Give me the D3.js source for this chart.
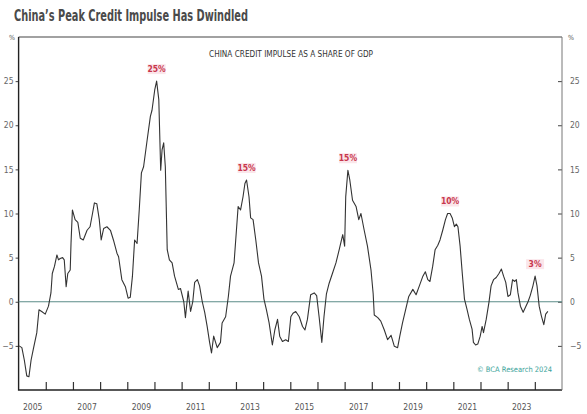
<!DOCTYPE html>
<html>
<head>
<meta charset="utf-8">
<script src="https://cdn.jsdelivr.net/npm/d3@7"></script>
<style>
  body { margin: 0; background: #fff; }
  text { font-family: "Liberation Sans Narrow", "DejaVu Sans Condensed", "Liberation Sans", sans-serif; }
</style>
</head>
<body>
<svg id="chart"></svg>
<script>
// decimal year of each reading, and credit impulse (% of GDP)
var dates = [2005.02,2005.12,2005.21,2005.30,2005.38,2005.46,2005.54,2005.67,2005.75,2005.85,2005.98,
  2006.10,2006.19,2006.24,2006.32,2006.41,2006.47,2006.53,2006.62,2006.68,2006.75,2006.81,2006.90,2006.93,2006.98,
  2007.08,2007.18,2007.27,2007.38,2007.52,2007.63,2007.72,2007.79,2007.88,2007.97,
  2008.04,2008.13,2008.25,2008.38,2008.49,2008.62,2008.68,2008.80,2008.93,
  2009.03,2009.11,2009.19,2009.27,2009.36,2009.44,2009.52,2009.60,2009.73,2009.85,2009.91,
  2010.01,2010.08,2010.16,2010.23,2010.28,2010.34,2010.40,2010.47,2010.55,2010.65,2010.74,2010.88,2010.96,
  2011.08,2011.14,2011.24,2011.33,2011.41,2011.48,2011.58,2011.66,2011.76,2011.85,2011.94,
  2012.03,2012.10,2012.18,2012.31,2012.43,2012.49,2012.62,2012.72,2012.80,2012.93,
  2013.01,2013.08,2013.17,2013.26,2013.33,2013.39,2013.48,2013.54,2013.63,2013.73,2013.83,2013.94,
  2014.03,2014.12,2014.22,2014.34,2014.43,2014.53,2014.61,2014.71,2014.83,2014.93,
  2015.02,2015.10,2015.20,2015.33,2015.45,2015.54,2015.63,2015.75,2015.88,2015.97,
  2016.06,2016.16,2016.24,2016.33,2016.43,2016.55,2016.68,2016.80,2016.93,
  2017.00,2017.04,2017.12,2017.19,2017.29,2017.42,2017.52,2017.60,2017.72,2017.84,2017.97,
  2018.05,2018.09,2018.22,2018.33,2018.46,2018.58,2018.71,2018.83,2018.95,
  2019.03,2019.13,2019.23,2019.36,2019.51,2019.63,2019.75,2019.88,2019.97,
  2020.06,2020.14,2020.24,2020.33,2020.43,2020.51,2020.61,2020.71,2020.79,2020.88,2020.96,
  2021.04,2021.11,2021.17,2021.25,2021.33,2021.41,2021.50,2021.59,2021.69,2021.74,2021.82,2021.90,2021.99,
  2022.06,2022.11,2022.21,2022.31,2022.39,2022.48,2022.58,2022.68,2022.77,2022.85,2022.93,
  2023.01,2023.10,2023.18,2023.26,2023.32,2023.38,2023.47,2023.57,2023.66,2023.75,2023.83,2023.93,
  2024.01,2024.08,2024.16,2024.24,2024.33,2024.40,2024.48];
var impulse = [-5.0,-5.2,-6.6,-8.4,-8.5,-6.6,-5.4,-3.5,-0.9,-1.1,-1.4,
  -0.5,1.0,3.2,4.0,5.3,4.75,4.9,5.0,4.75,1.7,3.2,3.6,6.7,10.4,
  9.3,9.0,7.2,7.0,8.1,8.5,10.0,11.2,11.1,9.3,
  7.0,8.3,8.5,8.1,7.0,5.5,5.1,2.5,1.7,
  0.4,0.5,2.9,7.0,6.6,10.4,14.6,15.3,18.3,21.0,21.7,
  24.0,25.0,22.9,14.9,17.2,18.0,15.3,5.9,4.75,4.4,2.9,1.4,1.5,
  0.0,-1.8,1.2,-1.1,0.0,2.2,2.5,1.8,0.0,-1.2,-2.8,
  -4.6,-5.8,-3.9,-5.2,-4.6,-2.4,-1.7,0.6,2.9,4.4,
  7.8,10.8,10.4,11.9,13.4,13.8,11.9,9.5,9.3,7.0,4.4,2.9,
  0.3,-0.9,-2.4,-4.9,-3.2,-2.0,-3.9,-4.5,-4.3,-4.5,
  -1.7,-1.3,-1.1,-1.7,-2.8,-3.2,-2.0,0.8,1.0,0.7,
  -1.7,-4.6,-1.7,0.9,2.1,3.2,4.4,5.9,7.6,
  6.3,11.9,14.9,13.8,11.5,10.8,9.3,10.0,8.1,6.3,3.6,
  0.9,-1.5,-1.8,-2.2,-3.2,-4.3,-3.8,-5.05,-5.2,
  -3.9,-2.4,-1.1,0.6,1.4,0.8,1.8,2.9,3.4,
  2.5,2.3,4.0,5.9,6.4,7.0,8.1,9.3,10.0,10.0,9.5,
  8.5,8.8,8.5,6.3,3.2,0.3,-0.8,-2.0,-3.1,-4.6,-4.9,-4.8,-3.9,
  -2.8,-3.5,-2.0,-0.1,1.8,2.5,2.75,3.2,3.7,2.9,2.2,
  0.6,0.8,2.5,2.3,2.5,1.0,-0.5,-1.2,-0.6,0.0,0.7,1.8,
  2.9,1.8,-0.5,-1.6,-2.6,-1.4,-1.1];

var yTicks = [-5, 0, 5, 10, 15, 20, 25];
var yearTicks = d3.range(2006, 2025);
var yearLabels = [2005, 2007, 2009, 2011, 2013, 2015, 2017, 2019, 2021, 2023];

// peaks called out in red
var peakDates = [2010.08, 2013.39, 2017.12, 2020.88, 2024.01];
var peakLabels = ["25%", "15%", "15%", "10%", "3%"];

var width = 587, height = 414;
var svg = d3.select("#chart").attr("width", width).attr("height", height);

var x = d3.scaleLinear().domain([2005, 2025]).range([18.6, 562]);
var y = d3.scaleLinear().domain([-10, 30]).range([390, 37]);

// title and subtitle
svg.append("text")
  .attr("x", 14).attr("y", 21)
  .attr("textLength", 234).attr("lengthAdjust", "spacingAndGlyphs")
  .style("font-size", "15px").style("font-weight", "bold")
  .style("fill", "#4a4a4a")
  .text("China\u2019s Peak Credit Impulse Has Dwindled");

svg.append("text")
  .attr("x", 291).attr("y", 57)
  .attr("text-anchor", "middle")
  .attr("textLength", 164).attr("lengthAdjust", "spacingAndGlyphs")
  .style("font-size", "8.5px").style("fill", "#333")
  .text("CHINA CREDIT IMPULSE AS A SHARE OF GDP");

// % markers
svg.append("text").attr("x", 9).attr("y", 40).style("font-size", "7px").style("fill", "#555").text("%");
svg.append("text").attr("x", 568).attr("y", 40).style("font-size", "7px").style("fill", "#555").text("%");

// left and right axes
var left = svg.append("g").attr("transform", "translate(18.6,0)")
  .call(d3.axisLeft(y).tickValues(yTicks).tickSize(3).tickPadding(2));
var right = svg.append("g").attr("transform", "translate(562,0)")
  .call(d3.axisRight(y).tickValues(yTicks).tickSize(-4).tickPadding(8));
[left, right].forEach(function(g){
  g.select(".domain").remove();
  g.selectAll("line").attr("stroke", "#444");
  g.selectAll("text").style("font-size", "8.5px").style("fill", "#666")
    .style("font-family", "'Liberation Sans Narrow', 'DejaVu Sans Condensed', sans-serif");
});

// bottom ticks at year starts, labels mid-year
var bottom = svg.append("g").attr("transform", "translate(0,390)")
  .call(d3.axisBottom(x).tickValues(yearTicks).tickSize(-8).tickFormat(""));
bottom.select(".domain").remove();
bottom.selectAll("line").attr("stroke", "#333").attr("stroke-width", 1.2);

var labels = svg.append("g").attr("transform", "translate(0,390)")
  .call(d3.axisBottom(x).tickValues(yearLabels.map(function(d){ return d + 0.5; }))
    .tickSize(0).tickPadding(14).tickFormat(function(d){ return Math.floor(d); }));
labels.select(".domain").remove();
labels.selectAll("text").style("font-size", "8.5px").style("fill", "#555")
  .style("font-family", "'Liberation Sans Narrow', 'DejaVu Sans Condensed', sans-serif");

// frame
svg.append("path")
  .attr("d", "M" + x(2005) + "," + y(30) + "H" + x(2025))
  .attr("stroke", "#444").attr("stroke-width", 1.2).attr("fill", "none");
svg.append("path")
  .attr("d", "M" + x(2005) + "," + y(30) + "V" + y(-10) + "H" + x(2025))
  .attr("stroke", "#222").attr("stroke-width", 1.4).attr("fill", "none");
svg.append("path")
  .attr("d", "M" + x(2025) + "," + y(30) + "V" + y(-10))
  .attr("stroke", "#777").attr("stroke-width", 1).attr("fill", "none");

// zero line
svg.append("line")
  .attr("x1", x(2005)).attr("x2", x(2025))
  .attr("y1", y(0)).attr("y2", y(0))
  .attr("stroke", "#5b8d89").attr("stroke-width", 1);

// the series
var points = dates.map(function(d, i){ return [d, impulse[i]]; });
var line = d3.line().x(function(d){ return x(d[0]); }).y(function(d){ return y(d[1]); });
svg.append("path").datum(points)
  .attr("d", line)
  .attr("fill", "none").attr("stroke", "#333").attr("stroke-width", 1.1)
  .attr("stroke-linejoin", "round");

// peak callouts
peakDates.forEach(function(pd, i){
  var k = dates.indexOf(pd);
  var g = svg.append("g")
    .attr("transform", "translate(" + x(pd) + "," + (y(impulse[k]) - 12) + ")");
  g.append("rect").attr("x", -9).attr("y", -5).attr("width", 18).attr("height", 10)
    .attr("fill", "#fbe6ea");
  g.append("text").attr("text-anchor", "middle").attr("dy", "0.35em")
    .style("font-size", "8.5px").style("font-weight", "bold").style("fill", "#c8374d")
    .text(peakLabels[i]);
});

// source
svg.append("text")
  .attr("x", 552).attr("y", 372).attr("text-anchor", "end")
  .style("font-size", "7.5px").style("fill", "#3aa39a")
  .text("\u00a9 BCA Research 2024");
</script>
</body>
</html>
